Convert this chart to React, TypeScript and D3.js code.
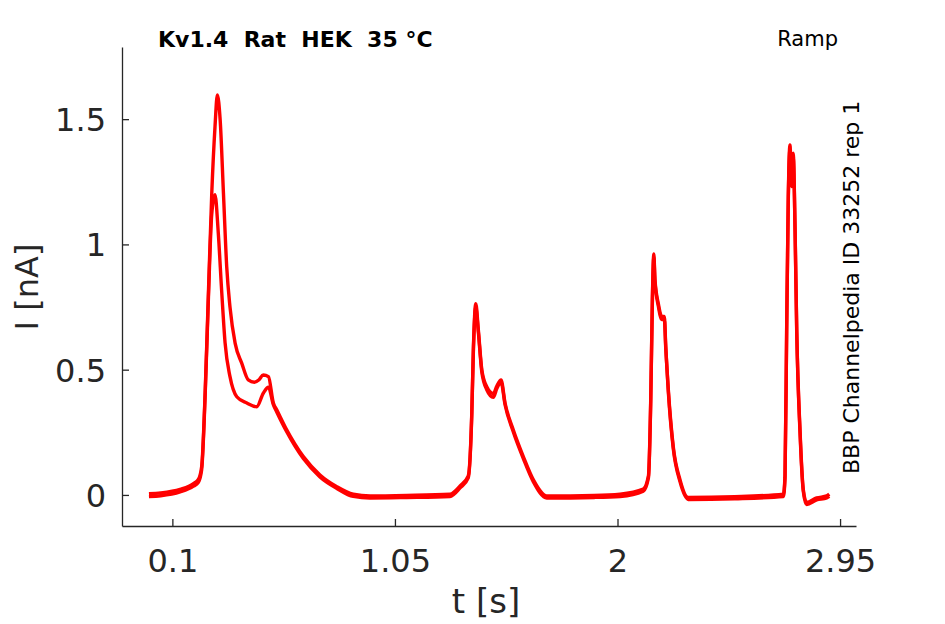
import { useRef, useEffect } from "react";
import * as d3 from "d3";

// sweep with the larger first peak (t in s, I in nA)
const sweepHighT = [
  0.0, 0.05, 0.133, 0.19, 0.211, 0.225, 0.24, 0.254, 0.268, 0.282, 0.292, 0.304,
  0.318, 0.332, 0.346, 0.368, 0.396, 0.424, 0.45, 0.47, 0.488, 0.51, 0.531, 0.546,
  0.588, 0.659, 0.73, 0.802, 0.872, 0.944, 1.1, 1.285, 1.328, 1.363, 1.378, 1.385,
  1.395, 1.406, 1.421, 1.442, 1.47, 1.485, 1.503, 1.52, 1.555, 1.598, 1.641, 1.698,
  1.9, 2.011, 2.11, 2.132, 2.142, 2.149, 2.155, 2.16, 2.174, 2.189, 2.2, 2.206,
  2.217, 2.238, 2.267, 2.302, 2.5, 2.708, 2.715, 2.722, 2.729, 2.736, 2.744, 2.75,
  2.758, 2.765, 2.779, 2.793, 2.807, 2.85, 2.893, 2.904,
];
const sweepHighI = [
  0.005, 0.008, 0.022, 0.045, 0.062, 0.113, 0.41, 0.81, 1.2, 1.47, 1.597, 1.497,
  1.205, 0.91, 0.75, 0.605, 0.526, 0.459, 0.45, 0.46, 0.479, 0.472, 0.367, 0.339,
  0.26, 0.153, 0.08, 0.033, 0.003, -0.004, -0.002, 0.003, 0.036, 0.076, 0.327, 0.59,
  0.763, 0.659, 0.499, 0.432, 0.405, 0.435, 0.459, 0.367, 0.26, 0.153, 0.06, -0.004,
  -0.002, 0.003, 0.023, 0.076, 0.39, 0.79, 0.962, 0.858, 0.765, 0.712, 0.712, 0.592,
  0.419, 0.193, 0.06, -0.01, -0.007, 0.003, 0.076, 0.659, 1.19, 1.397, 1.231, 1.364,
  1.058, 0.659, 0.26, 0.022, -0.03, -0.012, -0.004, 0.003,
];

// sweep with the smaller first peak
const sweepLowT = [
  0.0, 0.05, 0.133, 0.19, 0.211, 0.225, 0.24, 0.254, 0.268, 0.282, 0.296, 0.311,
  0.325, 0.346, 0.375, 0.418, 0.46, 0.488, 0.51, 0.531, 0.546, 0.588, 0.659, 0.73,
  0.802, 0.872, 0.944, 1.1, 1.285, 1.328, 1.363, 1.378, 1.385, 1.395, 1.406, 1.421,
  1.442, 1.47, 1.485, 1.503, 1.52, 1.555, 1.598, 1.641, 1.698, 1.9, 2.011, 2.11,
  2.132, 2.142, 2.149, 2.155, 2.16, 2.174, 2.189, 2.2, 2.206, 2.217, 2.238, 2.267,
  2.302, 2.5, 2.708, 2.715, 2.722, 2.729, 2.736, 2.744, 2.75, 2.758, 2.765, 2.779,
  2.793, 2.807, 2.85, 2.893, 2.904,
];
const sweepLowI = [
  -0.006, -0.003, 0.012, 0.035, 0.05, 0.1, 0.4, 0.79, 1.12, 1.198, 1.045, 0.805,
  0.607, 0.472, 0.392, 0.367, 0.352, 0.406, 0.43, 0.36, 0.33, 0.252, 0.145, 0.072,
  0.026, -0.006, -0.012, -0.01, -0.006, 0.028, 0.068, 0.32, 0.58, 0.75, 0.65, 0.49,
  0.42, 0.39, 0.425, 0.45, 0.36, 0.252, 0.145, 0.052, -0.012, -0.01, -0.006, 0.015,
  0.068, 0.38, 0.78, 0.95, 0.85, 0.755, 0.7, 0.7, 0.585, 0.41, 0.185, 0.052,
  -0.018, -0.015, -0.006, 0.068, 0.65, 1.18, 1.38, 1.25, 1.35, 1.05, 0.65, 0.25,
  0.015, -0.038, -0.02, -0.012, -0.006,
];

const xTicks = [0.1, 1.05, 2, 2.95];
const yTicks = [0, 0.5, 1, 1.5];

const title = "Kv1.4  Rat  HEK  35 °C";
const protocol = "Ramp";
const sourceNote = "BBP Channelpedia ID 33252 rep 1";

const width = 945;
const height = 624;
const ink = "#262626";
const font = "DejaVu Sans";

export default function App() {
  const svgRef = useRef<SVGSVGElement>(null);

  useEffect(() => {
    if (!svgRef.current) return;
    const svg = d3.select(svgRef.current);
    svg.selectAll("*").remove();

    const x = d3.scaleLinear().domain([-0.115, 3.018]).range([122, 856]);
    const y = d3.scaleLinear().domain([-0.124, 1.788]).range([526, 47]);

    const path = d3
      .line<[number, number]>()
      .x((d) => x(d[0]))
      .y((d) => y(d[1]))
      .curve(d3.curveMonotoneX);

    const sweeps = [
      { t: sweepLowT, v: sweepLowI },
      { t: sweepHighT, v: sweepHighI },
    ];

    sweeps.forEach((s) => {
      const pts: [number, number][] = s.t.map((t, i) => [t, s.v[i]]);
      svg
        .append("path")
        .datum(pts)
        .attr("fill", "none")
        .attr("stroke", "#ff0000")
        .attr("stroke-width", 3.4)
        .attr("stroke-linejoin", "round")
        .attr("d", path);
    });

    const xAxis = svg
      .append("g")
      .attr("transform", `translate(0,526)`)
      .call(
        d3
          .axisBottom(x)
          .tickValues(xTicks)
          .tickFormat((d) => String(d))
          .tickSizeInner(-7)
          .tickSizeOuter(0)
      );
    xAxis
      .selectAll("text")
      .attr("dy", null)
      .attr("y", 46)
      .attr("font-size", 32);

    const yAxis = svg
      .append("g")
      .attr("transform", `translate(122,0)`)
      .call(
        d3
          .axisLeft(y)
          .tickValues(yTicks)
          .tickFormat((d) => String(d))
          .tickSizeInner(-7)
          .tickSizeOuter(0)
      );
    yAxis
      .selectAll("text")
      .attr("x", -16)
      .attr("dy", "0.36em")
      .attr("font-size", 32);

    svg
      .selectAll(".tick text")
      .attr("fill", ink)
      .attr("font-family", font);
    svg.selectAll(".domain").attr("stroke", ink).attr("stroke-width", 1.3);
    svg.selectAll(".tick line").attr("stroke", ink).attr("stroke-width", 1.3);

    svg
      .append("text")
      .attr("x", 486)
      .attr("y", 613)
      .attr("text-anchor", "middle")
      .attr("fill", ink)
      .attr("font-family", font)
      .attr("font-size", 34)
      .text("t [s]");

    svg
      .append("text")
      .attr("transform", "translate(38,287) rotate(-90)")
      .attr("text-anchor", "middle")
      .attr("fill", ink)
      .attr("font-family", font)
      .attr("font-size", 32)
      .text("I [nA]");

    svg
      .append("text")
      .attr("x", 158)
      .attr("y", 47)
      .attr("fill", "#000")
      .attr("font-family", font)
      .attr("font-weight", "bold")
      .attr("font-size", 22)
      .style("white-space", "pre")
      .text(title);

    svg
      .append("text")
      .attr("x", 838)
      .attr("y", 46)
      .attr("text-anchor", "end")
      .attr("fill", "#000")
      .attr("font-family", font)
      .attr("font-size", 21)
      .text(protocol);

    svg
      .append("text")
      .attr("transform", "translate(859,474) rotate(-90)")
      .attr("fill", "#000")
      .attr("font-family", font)
      .attr("font-size", 22)
      .text(sourceNote);
  }, []);

  return (
    <svg
      ref={svgRef}
      width={width}
      height={height}
      style={{ position: "absolute", left: 0, top: 0, background: "#fff" }}
    />
  );
}
